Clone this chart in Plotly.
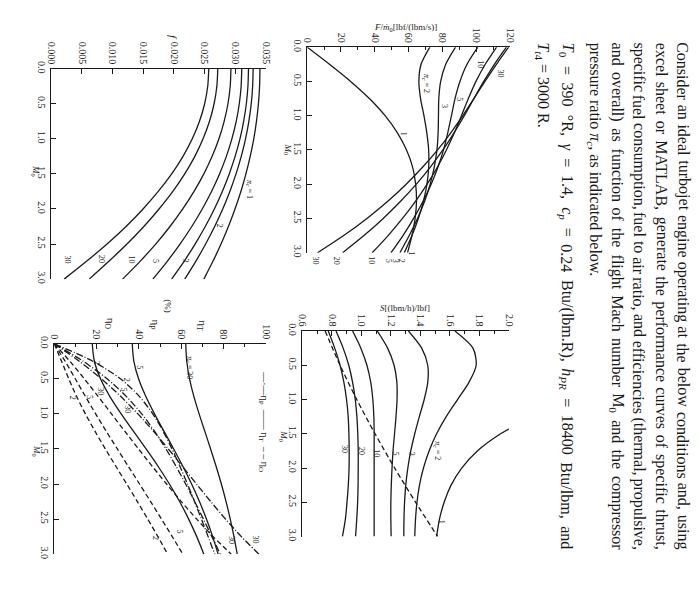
import re
import plotly.graph_objects as go

W, H = 700, 613

# ---------------- data ----------------
M0 = [0.0, 0.25, 0.5, 0.75, 1.0, 1.25, 1.5, 1.75, 2.0, 2.25, 2.5, 2.75, 3.0]
pi_c = [1, 2, 3, 5, 10, 20, 30]

# specific thrust F/m0 [lbf/(lbm/s)]
F_pc1 = [0.0, 13.2, 25.7, 36.8, 46.1, 53.4, 58.8, 62.4, 64.2, 64.7, 63.9, 62.0, 59.4]
F_pc2 = [72.6, 67.4, 66.1, 67.1, 69.1, 70.8, 71.9, 71.9, 70.9, 68.8, 65.8, 62.0, 57.5]
F_pc3 = [87.8, 82.0, 79.0, 77.9, 77.7, 77.5, 76.8, 75.2, 72.8, 69.5, 65.3, 60.4, 54.9]
F_pc5 = [101.0, 94.6, 90.4, 87.5, 85.4, 83.2, 80.7, 77.4, 73.4, 68.6, 63.0, 56.7, 49.6]
F_pc10 = [112.1, 105.4, 99.9, 95.4, 91.3, 87.1, 82.4, 77.1, 71.0, 64.1, 56.4, 47.9, 38.5]
F_pc20 = [117.9, 110.8, 104.5, 98.7, 93.0, 86.9, 80.3, 72.9, 64.6, 55.3, 45.0, 33.6, 21.0]
F_pc30 = [119.2, 112.0, 105.2, 98.7, 92.1, 85.0, 77.2, 68.4, 58.6, 47.7, 35.4, 21.6, 6.2]

# fuel/air ratio f
f_pc1 = [0.03404, 0.03398, 0.03379, 0.03347, 0.03303, 0.03245, 0.03175, 0.03093, 0.02997, 0.02889, 0.02769, 0.02635, 0.02489]
f_pc2 = [0.03293, 0.03285, 0.03262, 0.03223, 0.03169, 0.03099, 0.03014, 0.02913, 0.02797, 0.02665, 0.02518, 0.02355, 0.02177]
f_pc3 = [0.03217, 0.03208, 0.03182, 0.03138, 0.03078, 0.02999, 0.02903, 0.02790, 0.02660, 0.02512, 0.02346, 0.02164, 0.01963]
f_pc5 = [0.03107, 0.03097, 0.03067, 0.03017, 0.02946, 0.02856, 0.02745, 0.02614, 0.02463, 0.02292, 0.02100, 0.01889, 0.01657]
f_pc10 = [0.02931, 0.02919, 0.02882, 0.02820, 0.02735, 0.02624, 0.02489, 0.02329, 0.02145, 0.01937, 0.01703, 0.01445, 0.01163]
f_pc20 = [0.02716, 0.02701, 0.02656, 0.02581, 0.02476, 0.02342, 0.02177, 0.01983, 0.01758, 0.01510, 0.01235, 0.00935, 0.00620]
f_pc30 = [0.02569, 0.02552, 0.02502, 0.02418, 0.02300, 0.02149, 0.01964, 0.01745, 0.01497, 0.01220, 0.00910, 0.00570, 0.00210]

# thrust specific fuel consumption S [(lbm/h)/lbf]
M0_S1 = [1.43, 1.5, 1.75, 2.0, 2.25, 2.5, 2.75, 3.0]
S_pc1 = [2.0, 1.943, 1.786, 1.680, 1.608, 1.561, 1.529, 1.510]
S_pc2 = [1.634, 1.756, 1.778, 1.729, 1.652, 1.575, 1.510, 1.459, 1.421, 1.394, 1.377, 1.367, 1.362]
S_pc3 = [1.319, 1.409, 1.450, 1.450, 1.426, 1.393, 1.362, 1.335, 1.315, 1.301, 1.293, 1.289, 1.288]
S_pc5 = [1.108, 1.178, 1.222, 1.241, 1.242, 1.235, 1.225, 1.215, 1.208, 1.203, 1.200, 1.200, 1.202]
S_pc10 = [0.941, 0.997, 1.038, 1.064, 1.078, 1.085, 1.087, 1.087, 1.087, 1.087, 1.087, 1.087, 1.087]
S_pc20 = [0.829, 0.877, 0.915, 0.941, 0.959, 0.970, 0.976, 0.979, 0.979, 0.978, 0.975, 0.969, 0.961]
S_pc30 = [0.776, 0.820, 0.856, 0.882, 0.900, 0.911, 0.916, 0.918, 0.917, 0.912, 0.903, 0.892, 0.872]
M0_Sopt = [0.0, 0.5, 1.0, 1.5, 2.0, 2.5, 3.0]
S_opt = [0.755, 0.856, 0.969, 1.093, 1.226, 1.368, 1.517]

# efficiencies (%) for pi_c = 2, 5, 30
etaT_pc2 = [17.97, 18.98, 21.87, 26.26, 31.64, 37.50, 43.42, 49.13, 54.43, 59.24, 63.54, 67.35, 70.70]
etaT_pc5 = [36.86, 37.64, 39.87, 43.25, 47.38, 51.89, 56.46, 60.84, 64.92, 68.63, 71.94, 74.87, 77.45]
etaT_pc30 = [62.16, 62.63, 63.96, 65.99, 68.47, 71.17, 73.90, 76.53, 78.98, 81.20, 83.18, 84.94, 86.49]
etaP_pc2 = [0.0, 18.26, 31.30, 40.21, 46.57, 51.51, 55.68, 59.44, 62.95, 66.31, 69.56, 72.74, 75.84]
etaP_pc5 = [0.0, 13.72, 24.98, 34.02, 41.35, 47.47, 52.81, 57.62, 62.11, 66.37, 70.49, 74.50, 78.44]
etaP_pc30 = [0.0, 11.84, 22.24, 31.38, 39.53, 46.96, 53.92, 60.62, 67.24, 73.96, 80.96, 88.44, 96.71]
etaO_pc2 = [0.0, 3.47, 6.85, 10.56, 14.73, 19.32, 24.18, 29.20, 34.26, 39.28, 44.20, 48.99, 53.62]
etaO_pc5 = [0.0, 5.16, 9.96, 14.71, 19.59, 24.63, 29.82, 35.06, 40.32, 45.55, 50.71, 55.78, 60.75]
etaO_pc30 = [0.0, 7.42, 14.22, 20.71, 27.07, 33.42, 39.85, 46.39, 53.11, 60.06, 67.34, 75.12, 83.65]

M0_ticks = [0.0, 0.5, 1.0, 1.5, 2.0, 2.5, 3.0]
M0_ticktext = ["0.0", "0.5", "1.0", "1.5", "2.0", "2.5", "3.0"]
F_ticks = [0, 20, 40, 60, 80, 100, 120]
f_ticks = [0.0, 0.005, 0.010, 0.015, 0.020, 0.025, 0.030, 0.035]
f_ticktext = ["0.000", "0.005", "0.010", "0.015", "0.020", "0.025", "0.030", "0.035"]
S_ticks = [0.6, 0.8, 1.0, 1.2, 1.4, 1.6, 1.8, 2.0]
S_ticktext = ["0.6", "0.8", "1.0", "1.2", "1.4", "1.6", "1.8", "2.0"]
eta_ticks = [0, 20, 40, 60, 80, 100]

# paragraph lines; True = justified line
TEXT_LINES = [
    ("Consider an ideal turbojet engine operating at the below conditions and, using", True),
    ("excel sheet or MATLAB, generate the performance curves of specific thrust,", True),
    ("specific fuel consumption, fuel to air ratio, and efficiencies (thermal, propulsive,", True),
    ("and overall) as function of the flight Mach number M<sub>0</sub> and the compressor", True),
    ("pressure ratio <i>π<sub>c</sub></i>, as indicated below.", False),
    ("<i>T</i><sub>0</sub> = 390 °R, <i>γ</i> = 1.4, <i>c<sub>p</sub></i> = 0.24 Btu/(lbm.R), <i>h<sub>PR</sub></i> = 18400 Btu/lbm, and", True),
    ("<i>T</i><sub><i>t</i>4</sub> = 3000 R.", False),
]

# ---------------- layout helpers ----------------
SERIF = "Liberation Serif, Times New Roman, serif"
BLACK = "#1a1a1a"

# approximate Times advance widths (per 1000 em) for justifying the paragraph
_TW = {" ": 250, ",": 250, ".": 250, "(": 333, ")": 333, "/": 278, "=": 564, "°": 400, "-": 333,
       "π": 549, "γ": 411}
for ch, w in zip("abcdefghijklmnopqrstuvwxyz",
                 [444, 500, 444, 500, 444, 333, 500, 500, 278, 278, 500, 278, 778, 500, 500, 500, 500, 333, 389,
                  278, 500, 500, 722, 500, 500, 444]):
    _TW[ch] = w
for ch, w in zip("ABCDEFGHIJKLMNOPQRSTUVWXYZ",
                 [722, 667, 667, 722, 611, 556, 722, 722, 333, 389, 722, 611, 889, 722, 722, 556, 722, 667, 556,
                  611, 722, 722, 944, 722, 722, 611]):
    _TW[ch] = w
for ch in "0123456789":
    _TW[ch] = 500


def text_width(html, size):
    total = 0.0
    for part in re.split(r"(<sub>.*?</sub>)", html):
        scale = 0.7 if part.startswith("<sub>") else 1.0
        plain = re.sub(r"<[^>]+>", "", part)
        total += sum(_TW.get(c, 500) for c in plain) * scale
    return total * size / 1000.0


def pxx(x):
    return x / W


def pyy(y):
    return 1 - y / H


# panel boxes in pixels: (x0, x1, ytop, ybottom)
BOX = {
    "F": (307, 513, 40, 250),
    "f": (47, 265, 62, 277),
    "S": (302, 512, 330, 540),
    "E": (50, 265, 343, 558),
}
AX = {"F": ("x", "y", ""), "f": ("x2", "y2", "2"), "S": ("x3", "y3", "3"), "E": ("x4", "y4", "4")}

fig = go.Figure()


def add(panel, xs, ys, dash="solid", width=1.3):
    xa, ya, _ = AX[panel]
    fig.add_trace(go.Scatter(x=xs, y=ys, mode="lines", xaxis=xa, yaxis=ya,
                             line=dict(color=BLACK, width=width, dash=dash, shape="spline", smoothing=0.8),
                             hoverinfo="skip", showlegend=False))


for s in [F_pc1, F_pc2, F_pc3, F_pc5, F_pc10, F_pc20, F_pc30]:
    add("F", s, M0)
for s in [f_pc1, f_pc2, f_pc3, f_pc5, f_pc10, f_pc20, f_pc30]:
    add("f", s, M0)
add("S", S_pc1, M0_S1)
for s in [S_pc2, S_pc3, S_pc5, S_pc10, S_pc20, S_pc30]:
    add("S", s, M0)
add("S", S_opt, M0_Sopt, dash="5px,3px")
for s in [etaT_pc2, etaT_pc5, etaT_pc30]:
    add("E", s, M0)
for s in [etaP_pc2, etaP_pc5, etaP_pc30]:
    add("E", s, M0, dash="7px,2px,1px,2px")
for s in [etaO_pc2, etaO_pc5, etaO_pc30]:
    add("E", s, M0, dash="5px,3px")

tickfont = dict(family=SERIF, size=10, color=BLACK)
layout = dict(width=W, height=H, margin=dict(l=0, r=0, t=0, b=0),
              paper_bgcolor="white", plot_bgcolor="white", showlegend=False,
              font=dict(family=SERIF, color=BLACK))

xspec = {
    "F": dict(range=[0, 120], tickvals=F_ticks, minor=dict(dtick=10, ticks="inside", ticklen=3, tickcolor=BLACK)),
    "f": dict(range=[0, 0.035], tickvals=f_ticks, ticktext=f_ticktext),
    "S": dict(range=[0.6, 2.0], tickvals=S_ticks, ticktext=S_ticktext,
              minor=dict(dtick=0.1, tick0=0.6, ticks="inside", ticklen=3, tickcolor=BLACK)),
    "E": dict(range=[0, 100], tickvals=eta_ticks, minor=dict(dtick=10, ticks="inside", ticklen=3, tickcolor=BLACK)),
}
for key, (x0, x1, yt, yb) in BOX.items():
    xa, ya, n = AX[key]
    xd = dict(domain=[pxx(x0), pxx(x1)], anchor=ya, side="top", tickangle=90,
              ticks="inside", ticklen=5, tickcolor=BLACK, showline=True, linecolor=BLACK, linewidth=1,
              showgrid=False, zeroline=False, tickfont=tickfont)
    xd.update(xspec[key])
    yd = dict(domain=[pyy(yb), pyy(yt)], anchor=xa, range=[3, 0], tickvals=M0_ticks, ticktext=M0_ticktext,
              tickangle=90, ticks="inside", ticklen=5, tickcolor=BLACK, showline=True, linecolor=BLACK,
              linewidth=1, showgrid=False, zeroline=False, tickfont=tickfont)
    layout["xaxis" + n] = xd
    layout["yaxis" + n] = yd

fig.update_layout(**layout)

ann = []


def note(px_, py_, text, size=9, angle=90, italic=False, xanchor="center", yanchor="middle"):
    if italic:
        text = "<i>" + text + "</i>"
    ann.append(dict(x=pxx(px_), y=pyy(py_), xref="paper", yref="paper", text=text, showarrow=False,
                    textangle=angle, xanchor=xanchor, yanchor=yanchor,
                    font=dict(family=SERIF, size=size, color=BLACK)))


# paragraph text, rotated and justified word by word between y=33 and y=550
TXT_SIZE = 16
TXT_TOP, TXT_BOTTOM = 33, 550
text_x = [689, 667, 644, 622, 599, 571, 546]
for tx, (line, justify) in zip(text_x, TEXT_LINES):
    if not justify:
        note(tx, TXT_TOP, line, size=TXT_SIZE, yanchor="top")
        continue
    words = line.split(" ")
    widths = [text_width(w, TXT_SIZE) for w in words]
    gap = (TXT_BOTTOM - TXT_TOP - sum(widths)) / (len(words) - 1)
    gap = max(gap, 1.5)
    y = TXT_TOP
    for w, wd in zip(words, widths):
        note(tx, y, w, size=TXT_SIZE, yanchor="top")
        y += wd + gap

# axis titles
note(407, 20, "F</i>/<i>ṁ</i><sub>0</sub>[lbf/(lbm/s)]", size=9, angle=0, italic=True)
note(287, 145, "M</i><sub>0</sub><i>", size=9, italic=True)
note(170, 30, "f", size=11, italic=True)
note(31, 166, "M</i><sub>0</sub><i>", size=9, italic=True)
note(406, 307, "S</i>[(lbm/h)/lbf]<i>", size=9, angle=0, italic=True)
note(283, 437, "M</i><sub>0</sub><i>", size=9, italic=True)
note(32, 453, "M</i><sub>0</sub><i>", size=9, italic=True)
note(107, 323, "η<sub>O</sub>", size=11)
note(152, 323, "η<sub>P</sub>", size=11)
note(166, 305, "(%)", size=9)
note(200, 325, "η<sub>T</sub>", size=11)
note(263, 423, "—·—η<sub>P</sub>  —— η<sub>T</sub>  – – η<sub>O</sub>", size=10)

# curve labels: F panel
for (lx, ly, t) in [(427, 77, "<i>π<sub>c</sub></i> = 2"), (446, 100, "3"), (462, 93, "5"), (483, 58, "10"),
                    (503, 67, "30"), (405, 128, "1"), (315, 258, "30"), (337, 258, "20"), (372, 258, "10"),
                    (390, 258, "5"), (397, 258, "3"), (403, 258, "2"), (413, 250, "1")]:
    note(lx, ly, t, size=8)
# f panel
for (lx, ly, t) in [(248, 185, "<i>π<sub>c</sub></i> = 1"), (218, 222, "2"), (183, 258, "3"), (153, 258, "5"),
                    (128, 257, "10"), (98, 257, "20"), (63, 257, "30")]:
    note(lx, ly, t, size=8)
# S panel
for (lx, ly, t) in [(438, 452, "<i>π<sub>c</sub></i> = 2"), (413, 455, "3"), (397, 455, "5"), (378, 455, "10"),
                    (362, 453, "20"), (345, 450, "30"), (443, 525, "1")]:
    note(lx, ly, t, size=8)
# efficiency panel
for (lx, ly, t) in [(187, 367, "<i>π<sub>c</sub></i> = 30"), (137, 367, "5"), (93, 362, "2"), (123, 380, "2"),
                    (120, 390, "5"), (125, 410, "30"), (97, 392, "30"), (86, 397, "5"), (69, 398, "2"),
                    (177, 535, "5"), (153, 541, "2"), (255, 543, "30"), (230, 544, "30")]:
    note(lx, ly, t, size=8)

fig.update_layout(annotations=ann)
fig.write_html("out.html")
